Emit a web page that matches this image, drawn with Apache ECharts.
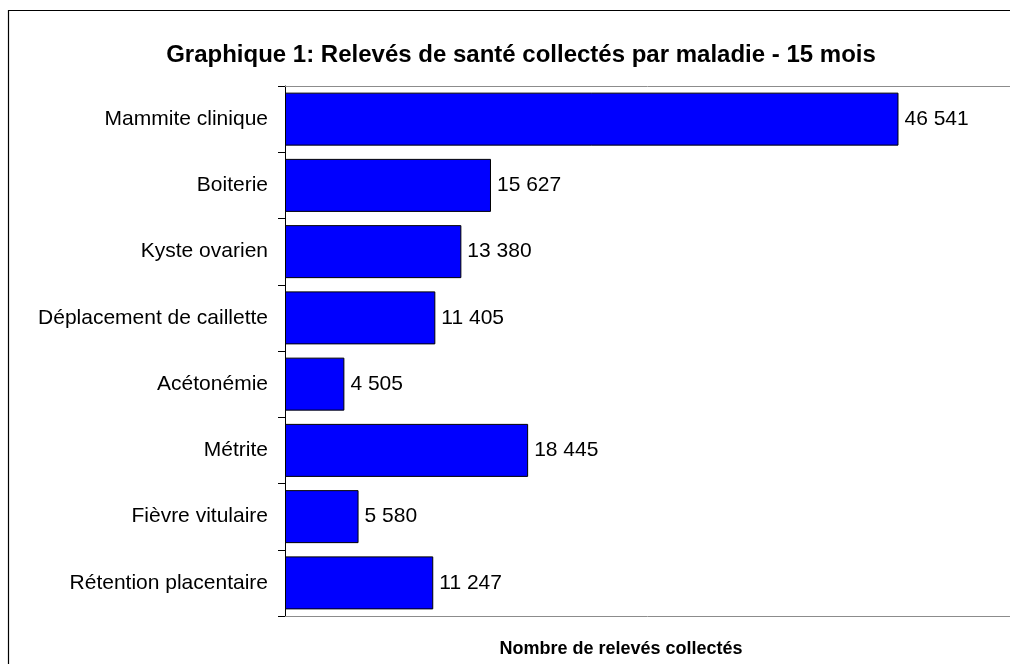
<!DOCTYPE html>
<html>
<head>
<meta charset="utf-8">
<script src="https://cdn.jsdelivr.net/npm/echarts@6/dist/echarts.min.js"></script>
<style>
  html, body { margin: 0; padding: 0; background: #fff; }
  #chart { width: 1010px; height: 664px; }
</style>
</head>
<body>
<div id="chart"></div>
<script>
// data
var categories = [
  'Mammite clinique',
  'Boiterie',
  'Kyste ovarien',
  'Déplacement de caillette',
  'Acétonémie',
  'Métrite',
  'Fièvre vitulaire',
  'Rétention placentaire'
];
var releves = [46541, 15627, 13380, 11405, 4505, 18445, 5580, 11247];

var titleText = 'Graphique 1: Relevés de santé collectés par maladie - 15 mois';
var axisTitle = 'Nombre de relevés collectés';

// 46 541 style
function fmt(v) {
  return String(v).replace(/\B(?=(\d{3})+(?!\d))/g, ' ');
}

var font = 'Liberation Sans, Arial, sans-serif';
var chart = echarts.init(document.getElementById('chart'));

// plain value axis, only its line is drawn (bottom and top of the plot)
function edgeAxis(pos) {
  return {
    type: 'value',
    position: pos,
    min: 0,
    max: 55000,
    axisLine: { show: true, onZero: false, lineStyle: { color: '#8c8c8c' } },
    axisTick: { show: false },
    axisLabel: { show: false },
    splitLine: { show: false }
  };
}

chart.setOption({
  backgroundColor: '#fff',
  animation: false,
  textStyle: { fontFamily: font },
  title: [
    {
      text: titleText,
      left: 516,
      top: 38,
      textAlign: 'center',
      textStyle: { fontFamily: font, fontSize: 24, fontWeight: 'bold', color: '#000' }
    },
    {
      text: axisTitle,
      left: 616,
      top: 635,
      textAlign: 'center',
      textStyle: { fontFamily: font, fontSize: 18, fontWeight: 'bold', color: '#000' }
    }
  ],
  graphic: [
    {
      type: 'rect',
      shape: { x: 8.5, y: 10.5, width: 1200, height: 800 },
      style: { fill: null, stroke: '#000', lineWidth: 1.2 },
      silent: true,
      z: -1
    }
  ],
  grid: {
    left: 285,
    top: 86,
    bottom: 48,
    right: 0,
    containLabel: false
  },
  xAxis: [edgeAxis('bottom'), edgeAxis('top')],
  yAxis: {
    type: 'category',
    data: categories,
    inverse: true,
    axisLine: { show: true, lineStyle: { color: '#000', width: 1 } },
    axisTick: { show: true, length: 7, lineStyle: { color: '#000' } },
    axisLabel: { color: '#000', fontSize: 21, margin: 17, fontFamily: font }
  },
  series: [
    {
      type: 'bar',
      data: releves,
      barCategoryGap: '20%',
      itemStyle: { color: '#0000ff', borderColor: '#000', borderWidth: 1 },
      label: {
        show: true,
        position: 'right',
        distance: 6,
        color: '#000',
        fontSize: 21,
        fontFamily: font,
        formatter: function (p) { return fmt(p.value); }
      }
    }
  ]
});
</script>
</body>
</html>
